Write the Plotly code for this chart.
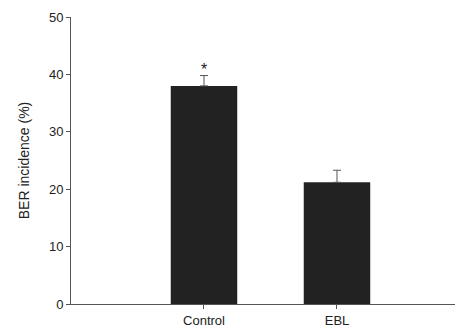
import plotly.graph_objects as go

categories = ["Control", "EBL"]
values = [38.0, 21.2]
errors = [1.8, 2.1]
annotations_text = ["*", ""]
y_ticks = [0, 10, 20, 30, 40, 50]

fig = go.Figure()
fig.add_trace(go.Bar(
    x=[0, 1], y=values, width=0.5,
    marker=dict(color="#222222", line=dict(width=0)),
    error_y=dict(type="data", array=errors, symmetric=False, arrayminus=[0, 0],
                 color="#555555", thickness=1, width=4),
))
for i, t in enumerate(annotations_text):
    if t:
        fig.add_annotation(x=i, y=values[i] + errors[i], text=t, showarrow=False,
                           yshift=6, font=dict(size=16, color="#222222", family="Liberation Sans"))

# page body has an 8px default margin, so the figure is offset by 8px
fig.update_layout(
    template="none",
    width=455, height=325,
    margin=dict(l=63, r=1, t=9, b=29, autoexpand=False),
    plot_bgcolor="white", paper_bgcolor="white",
    showlegend=False,
    font=dict(family="Liberation Sans, Arial, sans-serif", size=13, color="#222222"),
    xaxis=dict(range=[-1, 1.94], tickvals=[0, 1], ticktext=categories, automargin=False,
               showline=True, linecolor="#555555", linewidth=1, ticks="outside",
               ticklen=4, tickcolor="#555555", showgrid=False, zeroline=False,
               tickfont=dict(size=13)),
    yaxis=dict(range=[0, 50], tickvals=y_ticks, showline=True, linecolor="#555555",
               linewidth=1, ticks="outside", ticklen=4, tickcolor="#555555", automargin=False,
               showgrid=False, zeroline=False, tickfont=dict(size=13),
               title=dict(text="BER incidence (%)", font=dict(size=14), standoff=16)),
)
fig.write_html("out.html")
